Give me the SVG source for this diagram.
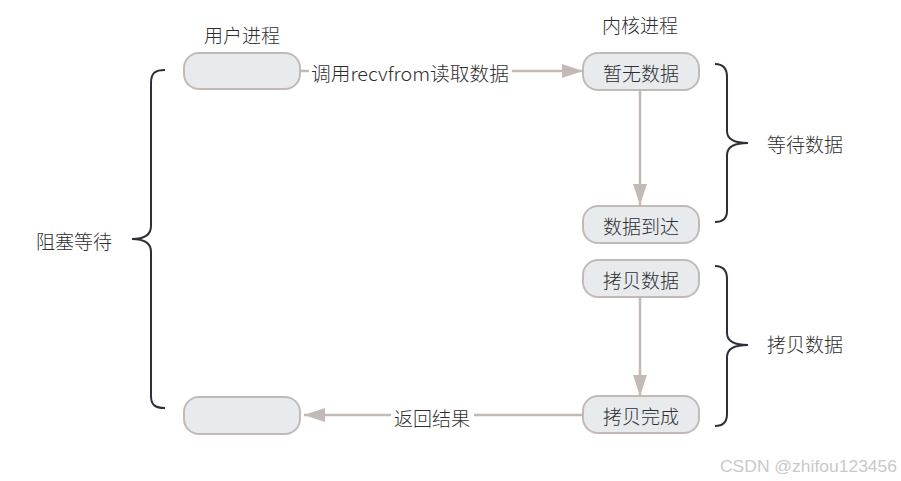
<svg xmlns="http://www.w3.org/2000/svg" width="901" height="481" viewBox="0 0 901 481">
<style>
.box{fill:#e8ebee;stroke:#c3bab5;stroke-width:2}
.t{font-family:"Noto Sans CJK SC","Microsoft YaHei",sans-serif;font-size:19px;font-weight:300;fill:#2e2e2e;dominant-baseline:central;text-anchor:middle}
.conn{fill:none;stroke:#c3bab5;stroke-width:2.5}
.brace{fill:none;stroke:#2a2f38;stroke-width:2}
.wm{font-family:"Liberation Sans",Arial,sans-serif;font-size:17px;fill:#c9c9c9}
</style>
<defs>
<marker id="ah" markerUnits="userSpaceOnUse" markerWidth="22" markerHeight="16" refX="21" refY="8" orient="auto">
<path d="M0,1 L21,8 L0,15 Z" fill="#c3bab5"/>
</marker>
</defs>
<rect width="901" height="481" fill="#ffffff"/>
<g id="labels">
<text class="t" x="242" y="34">用户进程</text>
<text class="t" x="640" y="24">内核进程</text>
</g>
<g id="connectors">
<path class="conn" d="M300,71 H309 M512,71 H583" marker-end="url(#ah)"/>
<path class="conn" d="M640,90 V205" marker-end="url(#ah)"/>
<path class="conn" d="M640,297 V396" marker-end="url(#ah)"/>
<path class="conn" d="M583,415 H474 M391,415 H304" marker-end="url(#ah)"/>
<text class="t" x="410" y="72" textLength="198" lengthAdjust="spacingAndGlyphs">调用recvfrom读取数据</text>
<text class="t" x="432" y="417">返回结果</text>
</g>
<g id="user-top"><rect class="box" x="184" y="53" width="116" height="36" rx="15"/></g>
<g id="user-bottom"><rect class="box" x="184" y="397" width="116" height="37" rx="15"/></g>
<g id="k-nodata"><rect class="box" x="583" y="53" width="116" height="37" rx="15"/><text class="t" x="641" y="72">暂无数据</text></g>
<g id="k-arrive"><rect class="box" x="583" y="206" width="116" height="37" rx="15"/><text class="t" x="641" y="225">数据到达</text></g>
<g id="k-copy"><rect class="box" x="583" y="260" width="116" height="37" rx="15"/><text class="t" x="641" y="279">拷贝数据</text></g>
<g id="k-done"><rect class="box" x="583" y="396" width="116" height="37" rx="15"/><text class="t" x="641" y="415">拷贝完成</text></g>
<g id="brace-block">
<path class="brace" d="M165,70 C155,70 151,73 151,83 L151,226 C151,234 146,239 132,239 C146,239 151,244 151,252 L151,396 C151,405 155,408 165,408"/>
<text class="t" x="74" y="240">阻塞等待</text>
</g>
<g id="brace-wait">
<path class="brace" d="M715,64 C723,64 727,68 727,77 L727,131 C727,138 732,143 748,143 C732,143 727,148 727,155 L727,211 C727,219 723,222 715,222"/>
<text class="t" x="805" y="143">等待数据</text>
</g>
<g id="brace-copy">
<path class="brace" d="M715,266 C723,266 727,270 727,279 L727,333 C727,340 732,345 748,345 C732,345 727,350 727,357 L727,414 C727,422 723,426 715,426"/>
<text class="t" x="805" y="343">拷贝数据</text>
</g>
<text class="wm" x="720" y="472" textLength="177" lengthAdjust="spacingAndGlyphs">CSDN @zhifou123456</text>
</svg>
